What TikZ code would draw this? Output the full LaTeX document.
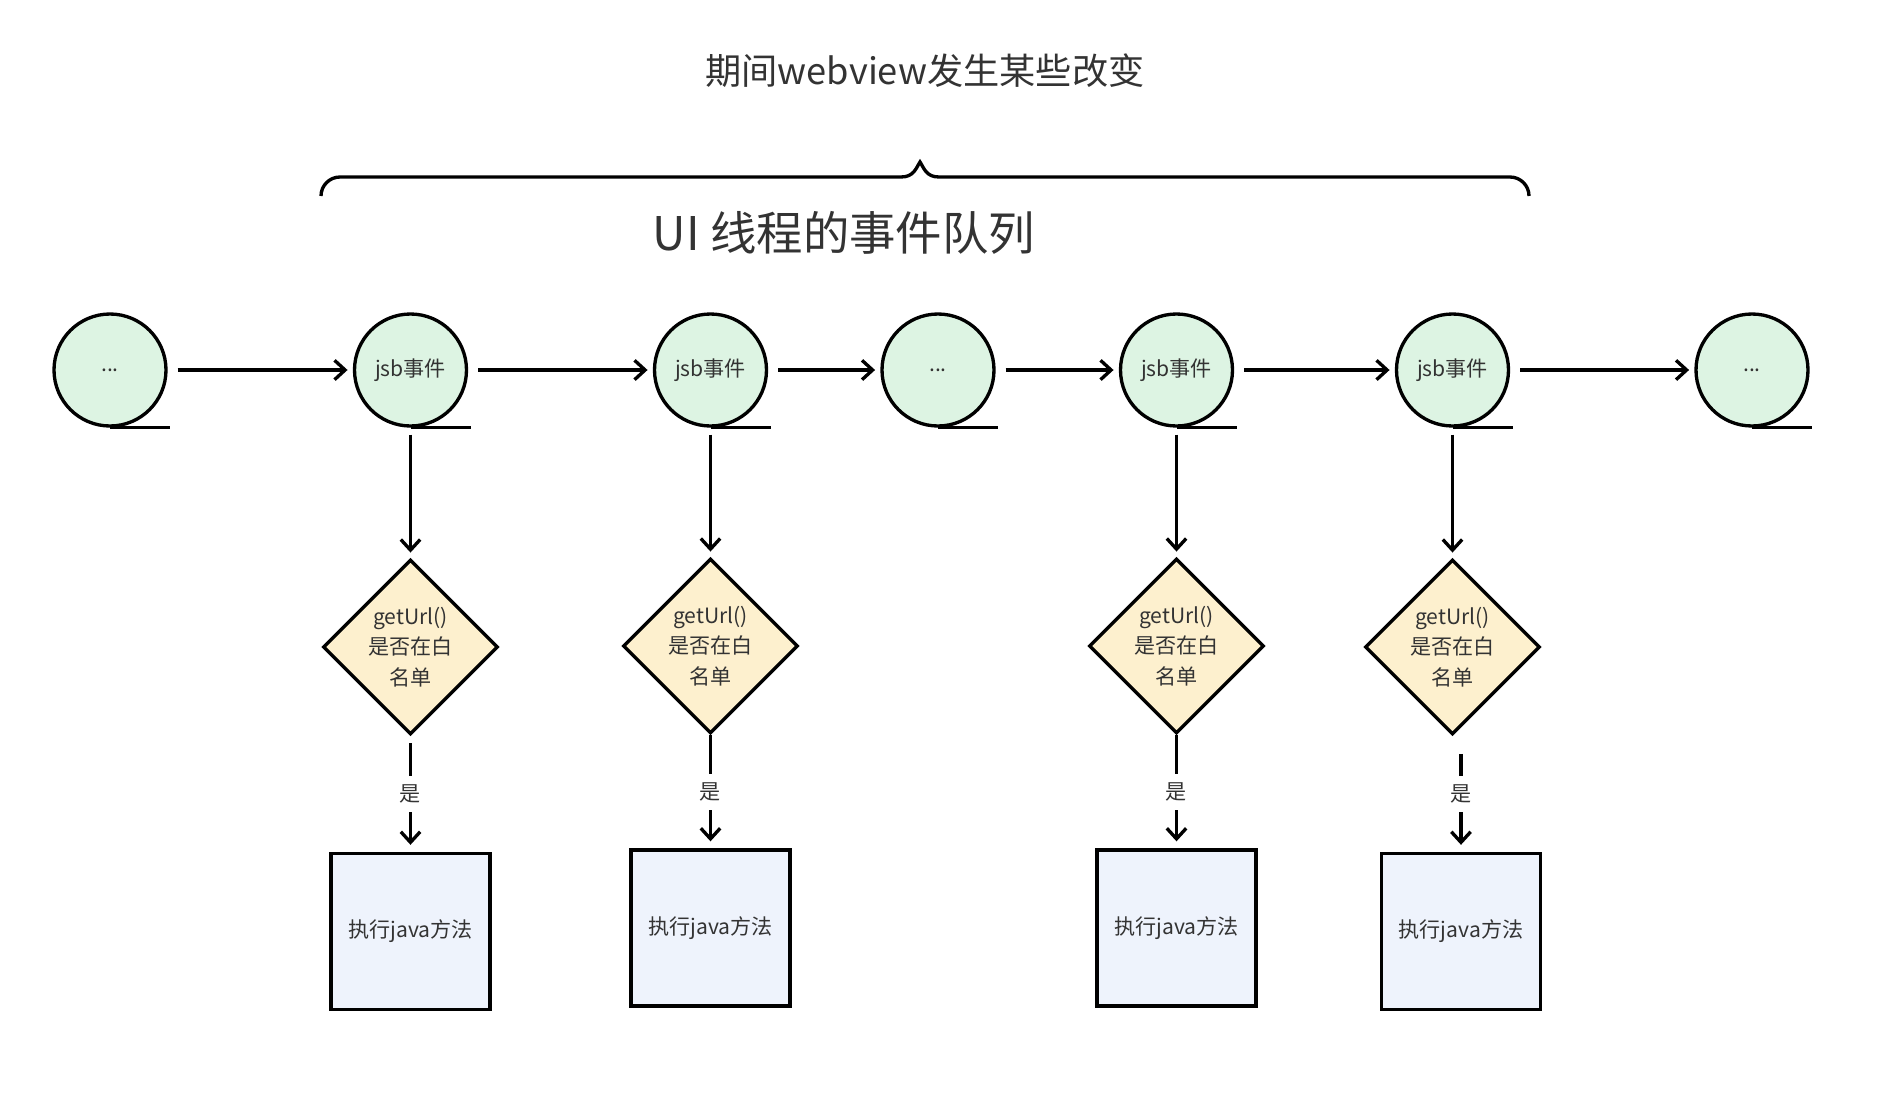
\documentclass[tikz,border=0pt]{standalone}
\usepackage{fontspec}
\setmainfont{Noto Sans CJK SC}
\usetikzlibrary{shapes.geometric, arrows.meta}
\usepackage{xcolor}
\definecolor{evtgreen}{HTML}{DDF4E3}
\definecolor{chkyellow}{HTML}{FDF0CE}
\definecolor{runblue}{HTML}{EEF3FC}
\definecolor{txtgray}{HTML}{333333}

\begin{document}
\begin{tikzpicture}[
    >={Straight Barb[length=6pt, width=11pt]},
    line width=1.9pt,
    font=\fontsize{12}{17.5}\selectfont,
    event/.style = {
        circle, draw, fill = evtgreen,
        minimum size = 2.24cm, inner sep = 0pt, text = txtgray
    },
    check/.style = {
        diamond, aspect = 1, draw, fill = chkyellow,
        minimum width = 3.5cm, minimum height = 3.5cm,
        inner sep = 0pt, align = center, text = txtgray
    },
    action/.style = {
        rectangle, draw, fill = runblue,
        minimum width = 3.18cm, minimum height = 3.12cm, text = txtgray
    },
    arrow/.style = {->, shorten <= 4pt, shorten >= 3pt},
    yeslabel/.style = {fill = white, inner sep = 5pt, text = txtgray}
]
\useasboundingbox (0,0) rectangle (37.86,-22.28);

% --- Titles and brace ---
\node[text = txtgray, font = \fontsize{20.6}{25}\selectfont] (title) at (18.50,-1.42) {期间webview发生某些改变};
\node[text = txtgray, font = \fontsize{26.4}{30}\selectfont] (queue) at (16.88,-4.66) {UI 线程的事件队列};

\draw (6.42,-3.92) arc[start angle = 180, end angle = 90, radius = 0.38]
    -- (18.02,-3.54) .. controls (18.28,-3.54) and (18.32,-3.36) .. (18.40,-3.24)
    .. controls (18.48,-3.36) and (18.52,-3.54) .. (18.78,-3.54)
    -- (30.20,-3.54) arc[start angle = 90, end angle = 0, radius = 0.38];

% --- Event queue (absolute coordinates, cm) ---
\node[event] (e1) at ( 2.20,-7.40) {...};
\node[event] (e2) at ( 8.21,-7.40) {jsb事件};
\node[event] (e3) at (14.21,-7.40) {jsb事件};
\node[event] (e4) at (18.76,-7.40) {...};
\node[event] (e5) at (23.53,-7.40) {jsb事件};
\node[event] (e6) at (29.05,-7.40) {jsb事件};
\node[event] (e7) at (35.04,-7.40) {...};

\draw (e1.south) -- ++(1.2,0);
\draw (e2.south) -- ++(1.2,0);
\draw (e3.south) -- ++(1.2,0);
\draw (e4.south) -- ++(1.2,0);
\draw (e5.south) -- ++(1.2,0);
\draw (e6.south) -- ++(1.2,0);
\draw (e7.south) -- ++(1.2,0);

% --- Whitelist checks ---
\node[check] (chk1) at ( 8.21,-12.94) {getUrl()\\是否在白\\名单};
\node[check] (chk2) at (14.21,-12.92) {getUrl()\\是否在白\\名单};
\node[check] (chk3) at (23.53,-12.92) {getUrl()\\是否在白\\名单};
\node[check] (chk4) at (29.05,-12.94) {getUrl()\\是否在白\\名单};

% --- Java calls ---
\node[action] (run1) at ( 8.21,-18.63) {执行java方法};
\node[action] (run2) at (14.21,-18.56) {执行java方法};
\node[action] (run3) at (23.53,-18.56) {执行java方法};
\node[action] (run4) at (29.22,-18.63) {执行java方法};

% --- Arrows ---
\draw[arrow, shorten <= 5.7pt] (e1) -- (e2);
\draw[arrow, shorten <= 5.7pt] (e2) -- (e3);
\draw[arrow, shorten <= 5.7pt] (e3) -- (e4);
\draw[arrow, shorten <= 5.7pt] (e4) -- (e5);
\draw[arrow, shorten <= 5.7pt] (e5) -- (e6);
\draw[arrow, shorten <= 5.7pt] (e6) -- (e7);

\draw[arrow] (e2) -- (chk1);
\draw[arrow] (e3) -- (chk2);
\draw[arrow] (e5) -- (chk3);
\draw[arrow] (e6) -- (chk4);

\draw[arrow, shorten >= 4pt] (chk1) -- node[yeslabel]{是} (run1);
\draw[arrow, shorten <= 0pt, shorten >= 4pt] (chk2) -- node[yeslabel]{是} (run2);
\draw[arrow, shorten <= 0pt, shorten >= 4pt] (chk3) -- node[yeslabel]{是} (run3);
\draw[arrow, shorten <= 10pt, shorten >= 4pt] (chk4.south -| run4) -- node[yeslabel]{是} (run4);

\end{tikzpicture}
\end{document}
